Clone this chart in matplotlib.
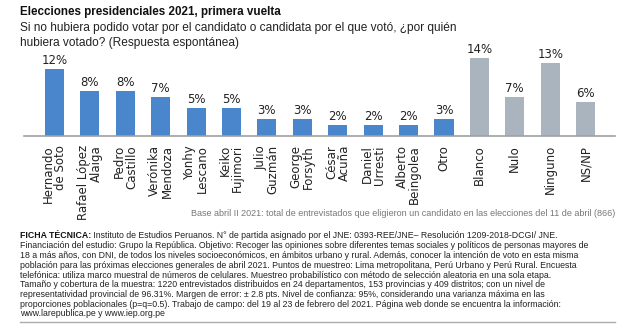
import numpy as np
import matplotlib.pyplot as plt
from matplotlib.lines import Line2D

plt.rcParams["font.family"] = ["Liberation Sans", "DejaVu Sans"]

# data
categories = ["Hernando\nde Soto", "Rafael López\nAlaiga", "Pedro\nCastillo", "Verónika\nMendoza",
              "Yonhy\nLescano", "Keiko\nFujimori", "Julio\nGuzmán", "George\nForsyth",
              "César\nAcuña", "Daniel\nUrresti", "Alberto\nBeingolea", "Otro",
              "Blanco", "Nulo", "Ninguno", "NS/NP"]
values = [12, 8, 8, 7, 5, 5, 3, 3, 2, 2, 2, 3, 14, 7, 13, 6]
is_candidate = [True] * 12 + [False] * 4

title = "Elecciones presidenciales 2021, primera vuelta"
subtitle_lines = ["Si no hubiera podido votar por el candidato o candidata por el que votó, ¿por quién",
                  "hubiera votado? (Respuesta espontánea)"]
base_note = "Base abril II 2021: total de entrevistados que eligieron un candidato en las elecciones del 11 de abril (866)"
ficha_bold = "FICHA TÉCNICA:"
ficha_lines = [
    " Instituto de Estudios Peruanos. N° de partida asignado por el JNE: 0393-REE/JNE– Resolución 1209-2018-DCGI/ JNE.",
    "Financiación del estudio: Grupo la República. Objetivo: Recoger las opiniones sobre diferentes temas sociales y políticos de personas mayores de",
    "18 a más años, con DNI, de todos los niveles socioeconómicos, en ámbitos urbano y rural. Además, conocer la intención de voto en esta misma",
    "población para las próximas elecciones generales de abril 2021. Puntos de muestreo: Lima metropolitana, Perú Urbano y Perú Rural. Encuesta",
    "telefónica: utiliza marco muestral de números de celulares. Muestreo probabilístico con método de selección aleatoria en una sola etapa.",
    "Tamaño y cobertura de la muestra: 1220 entrevistados distribuidos en 24 departamentos, 153 provincias y 409 distritos; con un nivel de",
    "representatividad provincial de 96.31%. Margen de error: ± 2.8 pts. Nivel de confianza: 95%, considerando una varianza máxima en las",
    "proporciones poblacionales (p=q=0.5). Trabajo de campo: del 19 al 23 de febrero del 2021. Página web donde se encuentra la información:",
    "www.larepublica.pe y www.iep.org.pe",
]

W, H = 640, 335
fig = plt.figure(figsize=(W / 100, H / 100), dpi=100)
fig.patch.set_facecolor("white")


def fx(px):
    return px / W


def fy(py):
    return 1 - py / H


# axes: baseline at y=136px, x from 24 to 615px
ax = fig.add_axes([fx(24), fy(136), fx(615 - 24), (136 - 52) / H])
x = np.arange(len(values))
colors = ["#4a86cc" if c else "#a9b4be" for c in is_candidate]
ax.bar(x, values, width=0.54, color=colors)
for xi, v in zip(x, values):
    ax.annotate(f"{v}%", (xi, v), xytext=(0, 1.5), textcoords="offset points",
                ha="center", va="bottom", fontsize=8.5, color="#222222",
                family=["DejaVu Sans"])
ax.set_xlim(-0.86, 15.83)
ax.set_ylim(0, 15)
ax.set_yticks([])
ax.set_xticks(x)
ax.set_xticklabels(categories, rotation=90, ma="right", fontsize=8.5,
                   linespacing=0.95, color="#222222", family=["DejaVu Sans"])
ax.tick_params(axis="x", length=0, pad=6.5)
for s in ["top", "right", "left"]:
    ax.spines[s].set_visible(False)
ax.spines["bottom"].set_color("#a0a0a0")
ax.spines["bottom"].set_linewidth(1.2)
ax.patch.set_visible(False)

# titles
fig.text(fx(20), fy(12), title, fontsize=8.4, fontweight="bold", va="center", ha="left", color="#111111")
for i, line in enumerate(subtitle_lines):
    fig.text(fx(20), fy(28 + i * 15), line, fontsize=8.6, va="center", ha="left", color="#222222")

# base note
fig.text(fx(615), fy(213), base_note, fontsize=6.5, ha="right", va="center", color="#777777")

# ficha tecnica
fig.canvas.draw()
renderer = fig.canvas.get_renderer()
y0, dy = 236, 9.75
fs = 6.35
tb = fig.text(fx(20), fy(y0), ficha_bold, fontsize=fs, fontweight="bold", va="center", ha="left", color="#111111")
bb = tb.get_window_extent(renderer)
for i, line in enumerate(ficha_lines):
    xp = bb.x1 / W if i == 0 else fx(20)
    fig.text(xp, fy(y0 + i * dy), line, fontsize=fs, va="center", ha="left", color="#222222")

fig.add_artist(Line2D([fx(20), fx(615)], [fy(322), fy(322)], color="#aaaaaa", lw=1.0))

fig.savefig("out.png", dpi=100)
